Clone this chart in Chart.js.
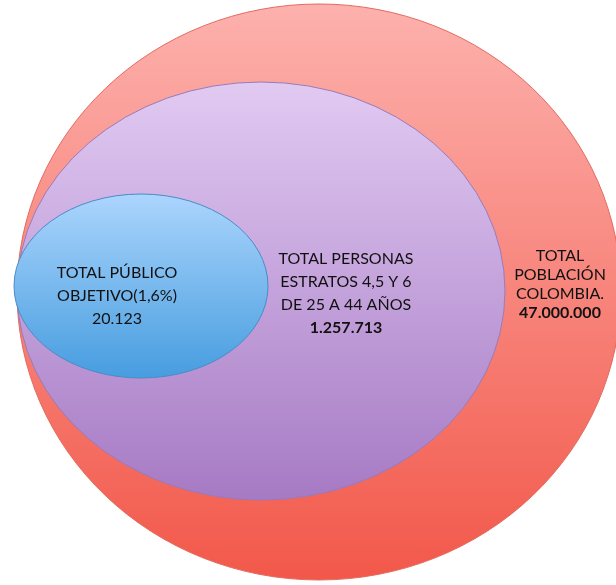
<!DOCTYPE html>
<html>
<head>
<meta charset="utf-8">
<script src="https://cdn.jsdelivr.net/npm/chart.js@4/dist/chart.umd.min.js"></script>
<style>
  html, body { margin: 0; padding: 0; background: #fff; }
  #wrap { width: 616px; height: 585px; }
</style>
</head>
<body>
<div id="wrap"><canvas id="venn" width="616" height="585"></canvas></div>
<script>
// groups, outermost first
const groups = ["TOTAL POBLACIÓN COLOMBIA.", "TOTAL PERSONAS ESTRATOS 4,5 Y 6 DE 25 A 44 AÑOS", "TOTAL PÚBLICO OBJETIVO(1,6%)"];
const values = [47000000, 1257713, 20123];
const labelLines = [
    ["TOTAL", "POBLACIÓN", "COLOMBIA."],
    ["TOTAL PERSONAS", "ESTRATOS 4,5 Y 6", "DE 25 A 44 AÑOS"],
    ["TOTAL PÚBLICO", "OBJETIVO(1,6%)"]
];
const valueLabels = ["47.000.000", "1.257.713", "20.123"];
const boldValue = [true, true, false];

// layout of the diagram (in axis units, not data)
const shapes = [
    { cx: 319, cy: 292, rx: 302, ry: 288 },
    { cx: 261, cy: 291, rx: 244, ry: 209 },
    { cx: 141, cy: 286, rx: 127, ry: 92 }
];
const textPos = [
    { x: 560, y: 256, size: 16, gap: 19 },
    { x: 346, y: 259, size: 16, gap: 23 },
    { x: 117, y: 273, size: 16, gap: 23 }
];
const fills = [
    ["#fdb1ad", "#f2584a", "#e26a60"],
    ["#e1caf2", "#a67ac4", "#9a7ab8"],
    ["#abd5fd", "#479ddf", "#4a8cc6"]
];

const ellipsePlugin = {
    id: "ellipses",
    afterDatasetsDraw(chart) {
        const ctx = chart.ctx;
        const xs = chart.scales.x, ys = chart.scales.y;
        chart.data.datasets.forEach((ds, i) => {
            const s = shapes[i];
            const pt = chart.getDatasetMeta(i).data[0];
            const rx = Math.abs(xs.getPixelForValue(s.cx + s.rx) - xs.getPixelForValue(s.cx));
            const ry = Math.abs(ys.getPixelForValue(s.cy + s.ry) - ys.getPixelForValue(s.cy));
            const g = ctx.createLinearGradient(0, pt.y - ry, 0, pt.y + ry);
            g.addColorStop(0, fills[i][0]);
            g.addColorStop(1, fills[i][1]);
            ctx.save();
            ctx.beginPath();
            ctx.ellipse(pt.x, pt.y, rx, ry, 0, 0, Math.PI * 2);
            ctx.fillStyle = g;
            ctx.fill();
            ctx.lineWidth = 1;
            ctx.strokeStyle = fills[i][2];
            ctx.stroke();
            ctx.restore();
        });
        // labels
        chart.data.datasets.forEach((ds, i) => {
            const t = textPos[i];
            const x = xs.getPixelForValue(t.x);
            let y = ys.getPixelForValue(t.y);
            ctx.save();
            ctx.fillStyle = "#111";
            ctx.textAlign = "center";
            ctx.textBaseline = "middle";
            ctx.font = t.size + "px Lato, 'Open Sans', sans-serif";
            labelLines[i].forEach(line => {
                ctx.fillText(line, x, y);
                y += t.gap;
            });
            ctx.font = (boldValue[i] ? "bold " : "") + t.size + "px Lato, 'Open Sans', sans-serif";
            ctx.fillText(valueLabels[i], x, y);
            ctx.restore();
        });
    }
};

new Chart(document.getElementById("venn"), {
    type: "scatter",
    data: {
        datasets: groups.map((g, i) => ({
            label: g,
            data: [{ x: shapes[i].cx, y: shapes[i].cy, v: values[i] }],
            pointRadius: 0,
            pointHoverRadius: 0
        }))
    },
    options: {
        responsive: false,
        animation: false,
        layout: { padding: 0 },
        plugins: { legend: { display: false }, tooltip: { enabled: false } },
        scales: {
            x: { type: "linear", min: 0, max: 616, display: false },
            y: { type: "linear", min: 0, max: 585, reverse: true, display: false }
        }
    },
    plugins: [ellipsePlugin]
});
</script>
</body>
</html>
